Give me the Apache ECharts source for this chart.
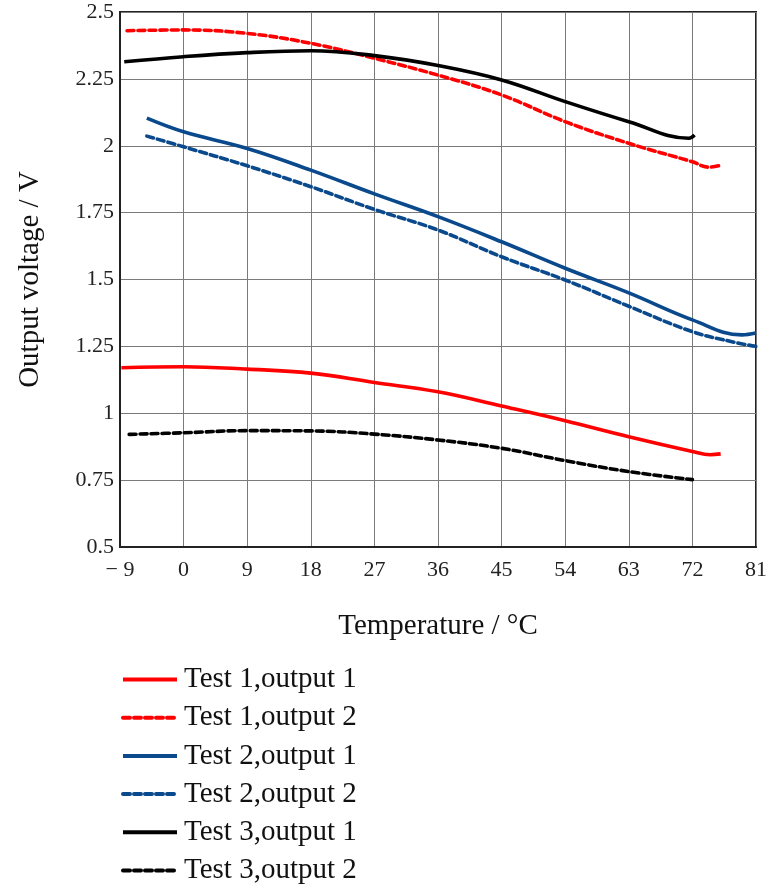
<!DOCTYPE html>
<html>
<head>
<meta charset="utf-8">
<script src="https://cdn.jsdelivr.net/npm/echarts@6/dist/echarts.min.js"></script>
<style>
  html, body { margin: 0; padding: 0; background: #fff; }
  #chart { width: 772px; height: 888px; }
</style>
</head>
<body>
<div id="chart"></div>
<script>
// temperatures (°C) and output voltages (V)
var t1o1X = [-8.8, 0, 9, 18, 27, 36, 45, 54, 63, 72, 74.5, 76];
var t1o1Y = [1.17, 1.174, 1.165, 1.15, 1.115, 1.08, 1.027, 0.972, 0.912, 0.857, 0.845, 0.848];

var t1o2X = [-8, 0, 9, 18, 27, 36, 45, 54, 63, 72, 74.2, 76];
var t1o2Y = [2.43, 2.433, 2.42, 2.383, 2.327, 2.264, 2.19, 2.09, 2.009, 1.94, 1.92, 1.927];

var t2o1X = [-5.2, 0, 9, 18, 27, 36, 45, 54, 63, 72, 79, 81];
var t2o1Y = [2.103, 2.052, 1.99, 1.909, 1.82, 1.735, 1.641, 1.542, 1.45, 1.349, 1.293, 1.3];

var t2o2X = [-5.2, 0, 9, 18, 27, 36, 45, 54, 63, 72, 78, 81];
var t2o2Y = [2.036, 1.996, 1.925, 1.847, 1.762, 1.685, 1.585, 1.498, 1.4, 1.305, 1.265, 1.25];

var t3o1X = [-8.4, 0, 9, 18, 27, 36, 45, 54, 63, 71.5, 72.3];
var t3o1Y = [2.314, 2.333, 2.348, 2.355, 2.337, 2.3, 2.246, 2.165, 2.09, 2.028, 2.04];

var t3o2X = [-7.7, 0, 9, 18, 27, 36, 45, 54, 63, 72];
var t3o2Y = [0.921, 0.927, 0.935, 0.934, 0.922, 0.9, 0.869, 0.823, 0.782, 0.752];

var seriesNames = ['Test 1,output 1', 'Test 1,output 2', 'Test 2,output 1',
                   'Test 2,output 2', 'Test 3,output 1', 'Test 3,output 2'];

var xTicks = [-9, 0, 9, 18, 27, 36, 45, 54, 63, 72, 81];
var yTicks = ['0.5', '0.75', '1', '1.25', '1.5', '1.75', '2', '2.25', '2.5'];

var serif = "'Liberation Serif', 'Times New Roman', serif";
var red = '#ff0000';
var blue = '#0a4a8c';
var black = '#000000';

function pairs(xs, ys) {
    return xs.map(function (x, i) { return [x, ys[i]]; });
}

function makeLine(name, xs, ys, color, dashed) {
    return {
        name: name,
        type: 'line',
        data: pairs(xs, ys),
        smooth: 0.4,
        showSymbol: false,
        symbol: 'none',
        color: color,
        lineStyle: {
            color: color,
            width: 3.6,
            type: dashed ? [7, 4] : 'solid',
            cap: dashed ? 'round' : 'butt'
        },
        z: 3
    };
}

var myChart = echarts.init(document.getElementById('chart'));

var option = {
    backgroundColor: '#fff',
    animation: false,
    textStyle: { fontFamily: serif },
    grid: {
        left: 120, top: 12, width: 636, height: 535,
        show: true, borderColor: '#222', borderWidth: 2
    },
    legend: {
        orient: 'vertical',
        left: 121,
        top: 665,
        height: 223,
        padding: 0,
        itemWidth: 54,
        itemHeight: 14,
        itemGap: 9.2,
        itemStyle: { opacity: 0 },
        lineStyle: { width: 4 },
        data: seriesNames,
        textStyle: { fontFamily: serif, fontSize: 29, color: '#111', padding: [0, 0, 0, 2] }
    },
    xAxis: {
        type: 'value',
        min: -9,
        max: 81,
        interval: 9,
        name: 'Temperature / °C',
        nameLocation: 'middle',
        nameGap: 65,
        nameTextStyle: { fontFamily: serif, fontSize: 29, color: '#111' },
        axisLine: { show: true, onZero: false, lineStyle: { color: '#222', width: 2 } },
        axisTick: { show: false },
        axisLabel: {
            fontFamily: serif, fontSize: 22, color: '#222', margin: 12,
            formatter: function (v) {
                var i = xTicks.indexOf(v);
                if (i < 0) return '';
                return xTicks[i] < 0 ? '\u2212 ' + Math.abs(xTicks[i]) : String(xTicks[i]);
            }
        },
        splitLine: { show: true, lineStyle: { color: '#7a7a7a', width: 1 } }
    },
    yAxis: {
        type: 'value',
        min: 0.5,
        max: 2.5,
        interval: 0.25,
        name: 'Output voltage / V',
        nameLocation: 'middle',
        nameGap: 75,
        nameTextStyle: { fontFamily: serif, fontSize: 29, color: '#111' },
        axisLine: { show: true, onZero: false, lineStyle: { color: '#222', width: 2 } },
        axisTick: { show: false },
        axisLabel: {
            fontFamily: serif, fontSize: 22, color: '#222', margin: 6,
            formatter: function (v) {
                var s = String(Math.round(v * 100) / 100);
                return yTicks.indexOf(s) >= 0 ? s : '';
            }
        },
        splitLine: { show: true, lineStyle: { color: '#7a7a7a', width: 1 } }
    },
    series: [
        makeLine(seriesNames[0], t1o1X, t1o1Y, red, false),
        makeLine(seriesNames[1], t1o2X, t1o2Y, red, true),
        makeLine(seriesNames[2], t2o1X, t2o1Y, blue, false),
        makeLine(seriesNames[3], t2o2X, t2o2Y, blue, true),
        makeLine(seriesNames[4], t3o1X, t3o1Y, black, false),
        makeLine(seriesNames[5], t3o2X, t3o2Y, black, true)
    ]
};

myChart.setOption(option);
</script>
</body>
</html>
